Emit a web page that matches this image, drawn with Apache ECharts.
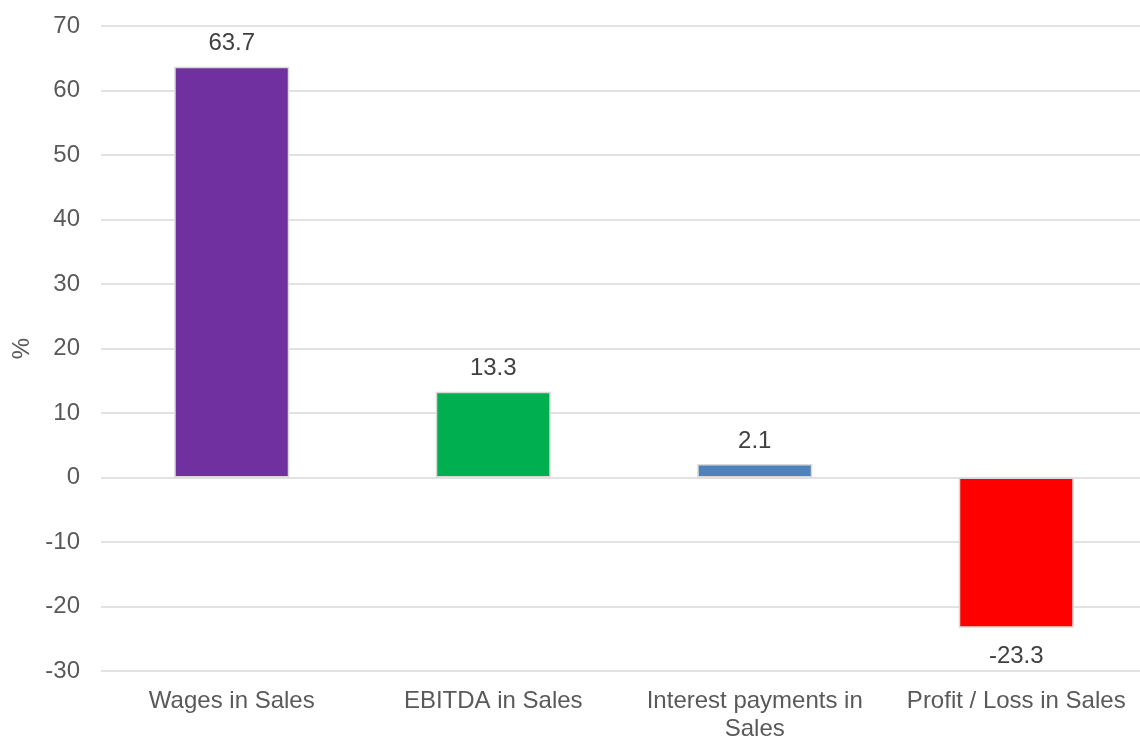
<!DOCTYPE html>
<html>
<head>
<meta charset="utf-8">
<script src="https://cdn.jsdelivr.net/npm/echarts@6/dist/echarts.min.js"></script>
<style>html,body{margin:0;padding:0;background:#fff}#c{width:1140px;height:738px}</style>
</head>
<body>
<div id="c"></div>
<script>
const categories = ['Wages in Sales', 'EBITDA in Sales', 'Interest payments in Sales', 'Profit / Loss in Sales'];
const values = [63.7, 13.3, 2.1, -23.3];
const colors = ['#7030A0', '#00B050', '#4F81BD', '#FF0000'];
const yTicks = { min: -30, max: 70, interval: 10 };

const chart = echarts.init(document.getElementById('c'));
const font = 'Liberation Sans, Arial, sans-serif';
chart.setOption({
  animation: false,
  grid: { left: 101, top: 26, width: 1046, height: 645, containLabel: false, outerBoundsMode: 'none' },
  xAxis: {
    type: 'category',
    data: categories,
    axisLine: { show: false, onZero: false },
    axisTick: { show: false },
    splitLine: { show: false },
    axisLabel: {
      color: '#595959', fontSize: 24, fontFamily: font, margin: 16, lineHeight: 28, interval: 0,
      formatter: v => v === 'Interest payments in Sales' ? 'Interest payments in\nSales' : v
    }
  },
  yAxis: {
    type: 'value',
    min: yTicks.min, max: yTicks.max, interval: yTicks.interval,
    name: '%', nameLocation: 'middle', nameGap: 66, nameRotate: 90,
    nameTextStyle: { color: '#595959', fontSize: 24, fontFamily: font },
    axisLine: { show: false },
    axisTick: { show: false },
    axisLabel: { color: '#595959', fontSize: 24, fontFamily: font, margin: 21 },
    splitLine: { lineStyle: { color: '#d9d9d9', width: 1.5 } }
  },
  series: [{
    type: 'bar',
    barWidth: 115,
    data: values.map((v, i) => ({
      value: v,
      itemStyle: { color: colors[i], borderColor: '#d9d9d9', borderWidth: 1.5 },
      label: { position: v < 0 ? 'bottom' : 'top', distance: v < 0 ? 17 : 11 }
    })),
    label: {
      show: true, color: '#404040', fontSize: 24, fontFamily: font,
      formatter: p => p.value.toFixed(1)
    }
  }]
});
</script>
</body>
</html>
